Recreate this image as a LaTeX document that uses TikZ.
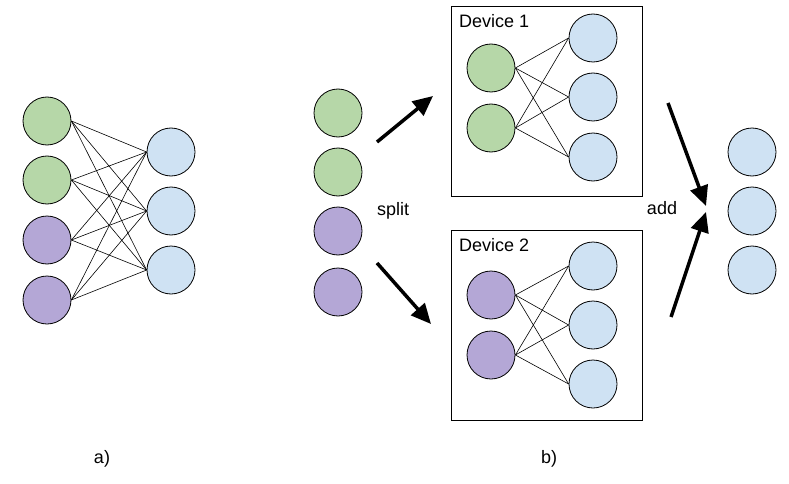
\documentclass[tikz,border=0pt]{standalone}
\usepackage{fontspec}
\setmainfont{Liberation Sans}
\usetikzlibrary{arrows.meta}
\definecolor{gfill}{HTML}{B6D7A8}
\definecolor{pfill}{HTML}{B4A7D6}
\definecolor{bfill}{HTML}{CFE2F3}
\tikzset{
  neuron/.style={circle,draw=black,line width=0.8pt,minimum size=48pt,inner sep=0pt},
  gn/.style={neuron,fill=gfill},
  pn/.style={neuron,fill=pfill},
  bn/.style={neuron,fill=bfill},
  conn/.style={draw=black,line width=0.6pt},
  devbox/.style={draw=black,line width=0.8pt},
  lbl/.style={font=\fontsize{18}{20}\selectfont,inner sep=0pt},
  bigarrow/.style={line width=3.5pt,-{Triangle[length=20pt,width=18pt]}}
}
\begin{document}
\begin{tikzpicture}[x=1pt,y=-1pt]
\useasboundingbox[fill=white] (0,0) rectangle (789,484);
% a)
\node[gn] (a1) at (47,121) {};
\node[gn] (a2) at (47,180) {};
\node[pn] (a3) at (47,240) {};
\node[pn] (a4) at (47,300) {};
\node[bn] (ab1) at (171,152) {};
\node[bn] (ab2) at (171,211) {};
\node[bn] (ab3) at (171,270) {};
\foreach \i in {1,2,3,4}{\foreach \j in {1,2,3}{\draw[conn] (a\i.east) -- (ab\j.west);}}
\node[lbl] (la) at (102,459) {a)};
% b) inputs
\node[gn] (s1) at (338,113) {};
\node[gn] (s2) at (338,172) {};
\node[pn] (s3) at (338,231) {};
\node[pn] (s4) at (338,292) {};
\node[lbl] (split) at (393,211) {split};
\coordinate (u0) at (377,142);
\coordinate (u1) at (433,96);
\coordinate (d0) at (377,263);
\coordinate (d1) at (431,324);
\draw[bigarrow] (u0) -- (u1);
\draw[bigarrow] (d0) -- (d1);
% Device 1
\draw[devbox] (451,6) rectangle (642,196);
\node[lbl,anchor=west] (dev1) at (459,21) {Device 1};
\node[gn] (g1) at (491,68) {};
\node[gn] (g2) at (491,128) {};
\node[bn] (c1) at (593,38) {};
\node[bn] (c2) at (593,97) {};
\node[bn] (c3) at (593,157) {};
\foreach \i in {1,2}{\foreach \j in {1,2,3}{\draw[conn] (g\i.east) -- (c\j.west);}}
% Device 2
\draw[devbox] (451,230) rectangle (642,420);
\node[lbl,anchor=west] (dev2) at (459,245) {Device 2};
\node[pn] (p1) at (491,295) {};
\node[pn] (p2) at (491,355) {};
\node[bn] (e1) at (593,266) {};
\node[bn] (e2) at (593,325) {};
\node[bn] (e3) at (593,384) {};
\foreach \i in {1,2}{\foreach \j in {1,2,3}{\draw[conn] (p\i.east) -- (e\j.west);}}
% add
\node[lbl] (add) at (662,208) {add};
\coordinate (t0) at (668,103);
\coordinate (t1) at (706,206);
\coordinate (b0) at (671,317);
\coordinate (b1) at (706,212);
\draw[bigarrow] (t0) -- (t1);
\draw[bigarrow] (b0) -- (b1);
% outputs
\node[bn] (o1) at (752,152) {};
\node[bn] (o2) at (752,211) {};
\node[bn] (o3) at (752,270) {};
\node[lbl] (lb) at (549,459) {b)};
\end{tikzpicture}
\end{document}
